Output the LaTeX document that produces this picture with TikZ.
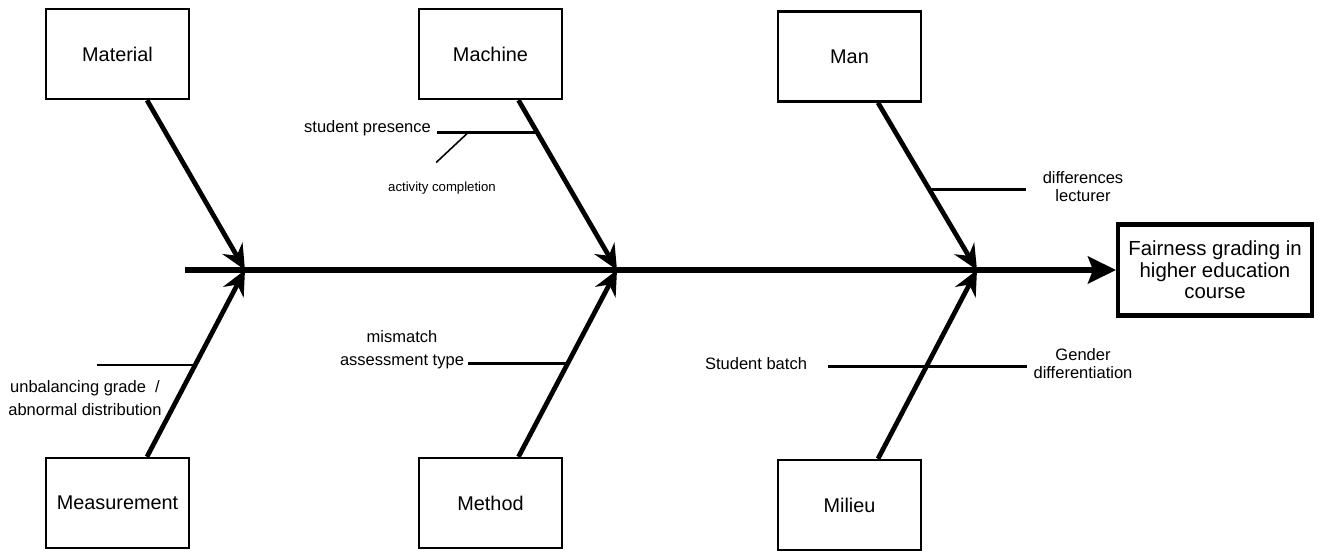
\documentclass[tikz,border=0pt]{standalone}
\usepackage{fontspec}
\setmainfont{Liberation Sans}
\usetikzlibrary{positioning,arrows.meta,calc}

\begin{document}
\begin{tikzpicture}[
  x=0.02cm, y=-0.02cm,
  font=\fontsize{9.4}{10.2}\selectfont,
  cat/.style={draw, line width=1.4pt, minimum width=2.86cm, minimum height=1.8cm,
              inner sep=0pt, font=\fontsize{11.3}{13}\selectfont},
  effect/.style={draw, line width=2.3pt, minimum width=3.88cm, minimum height=1.82cm,
                 align=center, inner sep=0pt, font=\fontsize{11.6}{12.3}\selectfont},
  lbl/.style={align=center, inner sep=1pt},
  wlbl/.style={lbl, font=\fontsize{9.4}{13}\selectfont},
  small/.style={lbl, font=\fontsize{7.5}{9}\selectfont},
  bone/.style={line width=2.7pt, -{Stealth[length=0.5cm, width=0.46cm, inset=0.17cm]}},
  spine/.style={line width=3pt, -{Stealth[length=0.56cm, width=0.54cm, inset=0.1cm]}},
  twig/.style={line width=1.4pt},
  ttwig/.style={line width=0.9pt}]

\useasboundingbox (0,0) rectangle (1318,553);

% categories
\node[cat] (mat)  at (117.5,54)  {Material};
\node[cat] (mach) at (490.5,54)  {Machine};
\node[cat] (man)  at (849.5,56.5) {Man};
\node[cat] (meas) at (117.5,503) {Measurement};
\node[cat] (meth) at (490.5,503) {Method};
\node[cat] (mil)  at (849.5,505) {Milieu};

% effect
\node[effect] (fair) at (1215,270) {Fairness grading in\\higher education\\course};

% spine
\coordinate (tail) at (185,270);
\coordinate (jA) at (245,270);
\coordinate (jB) at (617,270);
\coordinate (jC) at (977,270);
\draw[spine] (tail) -- (fair.west);

% bones
\coordinate (bA) at ($(mat.south)+(29.5,0)$);
\coordinate (bB) at ($(mach.south)+(28,0)$);
\coordinate (bC) at ($(man.south)+(28.5,0)$);
\coordinate (bD) at ($(meas.north)+(29.5,0)$);
\coordinate (bE) at ($(meth.north)+(28,0)$);
\coordinate (bF) at ($(mil.north)+(28.5,0)$);
\draw[bone] (bA) -- (jA);
\draw[bone] (bB) -- (jB);
\draw[bone] (bC) -- (jC);
\draw[bone] (bD) -- (jA);
\draw[bone] (bE) -- (jB);
\draw[bone] (bF) -- (jC);

% causes
\coordinate (pres) at ($(bB)!0.19!(jB)$);
\draw[twig] (pres) -- ++(-100,0) coordinate (presL);
\coordinate (presM) at ($(pres)!0.69!(presL)$);
\draw[ttwig] (presM) -- ++(-32,30) coordinate (actE);
\node[lbl, anchor=east] (presT) at (433,128) {student presence};
\node[small] (actT) at (442,188) {activity completion};

\coordinate (lect) at ($(bC)!0.52!(jC)$);
\draw[twig] (lect) -- ++(97,0) coordinate (lectR);
\node[lbl] (lectT) at (1083,187) {differences\\lecturer};

\coordinate (gen) at ($(bF)!0.49!(jC)$);
\draw[twig] (gen) -- ++(100.5,0) coordinate (genR);
\draw[twig] (gen) -- ++(-98.5,0) coordinate (batchL);
\node[lbl] (genT) at (1083,364) {Gender\\differentiation};
\node[lbl] (batchT) at (756,364) {Student batch};

\coordinate (ass) at ($(bE)!0.5!(jB)$);
\draw[twig] (ass) -- ++(-100,0) coordinate (assL);
\node[wlbl] (assT) at (402,350) {mismatch\\assessment type};

\coordinate (unb) at ($(bD)!0.49!(jA)$);
\draw[twig] (unb) -- ++(-98,0) coordinate (unbL);
\node[wlbl] (unbT) at (85,398) {unbalancing grade\ \ /\\abnormal distribution};
\end{tikzpicture}
\end{document}
